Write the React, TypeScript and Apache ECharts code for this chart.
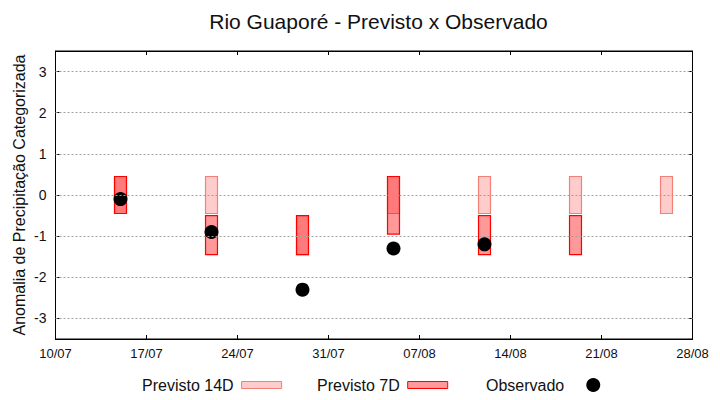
import React, { useEffect, useRef } from "react";
import * as echarts from "echarts";

const title = "Rio Guaporé - Previsto x Observado";
const yName = "Anomalia de Precipitação Categorizada";
const tickLabels = ["10/07", "17/07", "24/07", "31/07", "07/08", "14/08", "21/08", "28/08"];

const dates14 = ["15/07", "22/07", "29/07", "05/08", "12/08", "19/08", "26/08"];
const prev14Low = [-0.45, -0.45, -1.45, -0.45, -0.45, -0.45, -0.45];
const prev14High = [0.45, 0.45, -0.5, 0.45, 0.45, 0.45, 0.45];

const dates7 = ["15/07", "22/07", "29/07", "05/08", "12/08", "19/08"];
const prev7Low = [-0.45, -1.45, -1.45, -0.95, -1.45, -1.45];
const prev7High = [0.45, -0.5, -0.5, 0.45, -0.5, -0.5];

const datesObs = ["15/07", "22/07", "29/07", "05/08", "12/08"];
const observed = [-0.1, -0.9, -2.3, -1.3, -1.2];

const YEAR = 2024;
const dayIndex = (s: string) => {
  const [d, m] = s.split("/").map(Number);
  const start = Date.UTC(YEAR, 6, 10);
  return Math.round((Date.UTC(YEAR, m - 1, d) - start) / 86400000);
};

const FONT = "Liberation Sans";

const makeRender = (fill: string, stroke: string) => (params: any, api: any) => {
  const x = api.value(0);
  const lo = api.value(1);
  const hi = api.value(2);
  const p1 = api.coord([x - 0.46, hi]);
  const p2 = api.coord([x + 0.46, lo]);
  return {
    type: "rect",
    shape: { x: p1[0], y: p1[1], width: p2[0] - p1[0], height: p2[1] - p1[1] },
    style: { fill, stroke, lineWidth: 1.2 },
  };
};

export default function App() {
  const ref = useRef<HTMLDivElement>(null);
  useEffect(() => {
    if (!ref.current) return;
    const chart = echarts.init(ref.current, null, { renderer: "svg" });
    const fill14 = "rgba(255,0,0,0.2)";
    const stroke14 = "#f08078";
    const fill7 = "rgba(255,0,0,0.4)";
    const stroke7 = "#ff0000";
    const legendText = { fontFamily: FONT, fontSize: 16, color: "#111", padding: [0, 3, 0, 0] };
    const axisCommon = {
      axisLine: { show: true, onZero: false, lineStyle: { color: "#000" } },
      axisTick: { show: true, inside: true, length: 4, lineStyle: { color: "#000" } },
      splitLine: { show: false },
    };
    chart.setOption({
      animation: false,
      backgroundColor: "#fff",
      title: {
        text: title,
        left: 373.5,
        textAlign: "center",
        top: 6,
        textStyle: { fontFamily: FONT, fontSize: 21, fontWeight: "normal", color: "#111" },
      },
      grid: { left: 55.5, right: 27.5, top: 51, bottom: 61, show: true, borderColor: "#000", borderWidth: 1 },
      legend: [
        {
          data: ["Previsto 14D"], left: 142, top: 377, padding: 0, align: "right", icon: "rect",
          itemWidth: 40, itemHeight: 7, textStyle: legendText, itemStyle: { borderWidth: 1 },
        },
        {
          data: ["Previsto 7D"], left: 317, top: 377, padding: 0, align: "right", icon: "rect",
          itemWidth: 40, itemHeight: 7, textStyle: legendText, itemStyle: { borderWidth: 1 },
        },
        {
          data: ["Observado"], left: 486, top: 377, padding: 0, align: "right", icon: "circle",
          itemWidth: 14, itemHeight: 14, textStyle: { ...legendText, padding: [0, 17, 0, 0] },
        },
      ],
      xAxis: [
        {
          type: "value", min: 0, max: 49, interval: 7,
          ...axisCommon,
          axisLabel: {
            fontFamily: FONT, fontSize: 13, color: "#111", margin: 8,
            formatter: (v: number) => tickLabels[Math.round(v / 7)] ?? "",
          },
        },
        {
          type: "value", min: 0, max: 49, interval: 7, position: "top",
          ...axisCommon,
          axisLabel: { show: false },
        },
      ],
      yAxis: [
        {
          type: "value", min: -3.5, max: 3.5,
          ...axisCommon,
          axisTick: { show: true, inside: true, length: 4, lineStyle: { color: "#000" }, customValues: [-3, -2, -1, 0, 1, 2, 3] },
          axisLabel: {
            fontFamily: FONT, fontSize: 14, color: "#111", margin: 9,
            customValues: [-3, -2, -1, 0, 1, 2, 3],
          },
          name: yName,
          nameLocation: "middle",
          nameGap: 28,
          nameMoveOverlap: false,
          nameTextStyle: { fontFamily: FONT, fontSize: 16, color: "#111" },
        },
        {
          type: "value", min: -3.5, max: 3.5, position: "right",
          ...axisCommon,
          axisTick: { show: true, inside: true, length: 4, lineStyle: { color: "#000" }, customValues: [-3, -2, -1, 0, 1, 2, 3] },
          axisLabel: { show: false },
        },
      ],
      series: [
        {
          name: "grid",
          type: "line",
          data: [],
          markLine: {
            silent: true,
            symbol: "none",
            label: { show: false },
            lineStyle: { color: "#a0a0a0", type: [2, 2], width: 1 },
            data: [-3, -2, -1, 0, 1, 2, 3].map((v) => ({ yAxis: v })),
          },
        },
        {
          name: "Previsto 14D",
          type: "custom",
          renderItem: makeRender(fill14, stroke14),
          itemStyle: { color: fill14, borderColor: stroke14, borderWidth: 1 },
          data: dates14.map((d, i) => [dayIndex(d), prev14Low[i], prev14High[i]]),
          encode: { x: 0, y: [1, 2] },
          z: 2,
        },
        {
          name: "Previsto 7D",
          type: "custom",
          renderItem: makeRender(fill7, stroke7),
          itemStyle: { color: fill7, borderColor: stroke7, borderWidth: 1 },
          data: dates7.map((d, i) => [dayIndex(d), prev7Low[i], prev7High[i]]),
          encode: { x: 0, y: [1, 2] },
          z: 3,
        },
        {
          name: "Observado",
          type: "scatter",
          symbol: "circle",
          symbolSize: 14,
          itemStyle: { color: "#000", opacity: 1 },
          data: datesObs.map((d, i) => [dayIndex(d), observed[i]]),
          z: 4,
        },
      ],
    });
    return () => chart.dispose();
  }, []);
  return <div ref={ref} style={{ width: 720, height: 400, position: "absolute", left: 0, top: 0 }} />;
}
